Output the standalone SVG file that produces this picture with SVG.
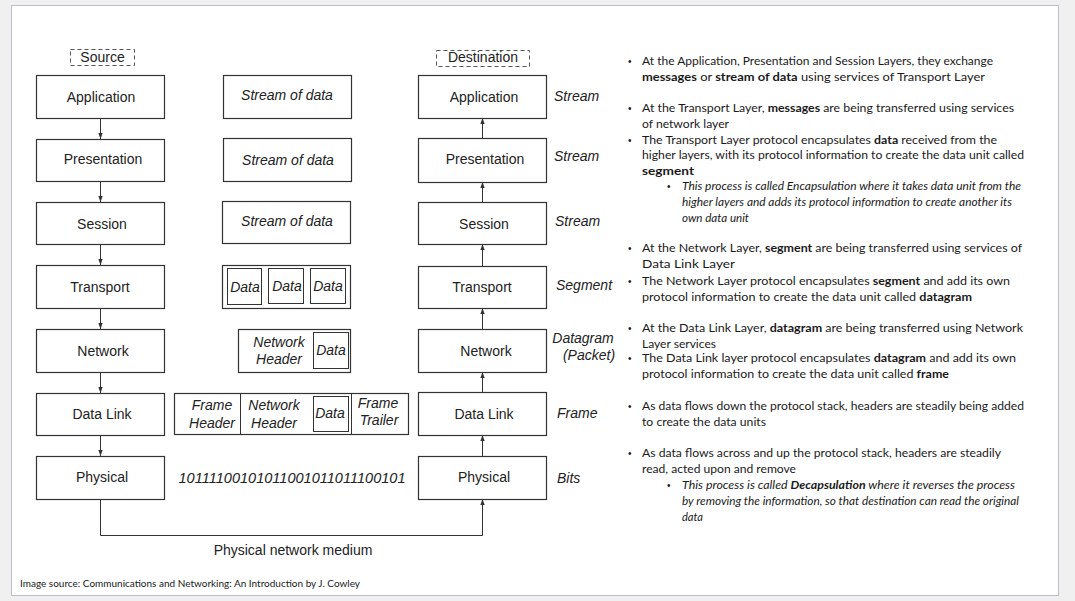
<svg xmlns="http://www.w3.org/2000/svg" width="1075" height="601" viewBox="0 0 1075 601">
<style>
.bx{fill:#fff;stroke:#333;stroke-width:1.2}
.ib{fill:#fff;stroke:#333;stroke-width:1}
.ds{fill:none;stroke:#555;stroke-width:1;stroke-dasharray:4 3}
.t{font-family:'Liberation Sans',Arial,sans-serif;font-size:14px;fill:#222;text-anchor:middle}
.ti{font-family:'Liberation Sans',Arial,sans-serif;font-size:14px;font-style:italic;fill:#222;text-anchor:middle}
.tl{font-family:'Liberation Sans',Arial,sans-serif;font-size:14px;font-style:italic;fill:#222}
.rt{font-family:Lato,'Noto Sans',sans-serif;font-size:12px;fill:#1a1a1a}
.st{font-family:Lato,'Noto Sans',sans-serif;font-size:11px;font-style:italic;fill:#1a1a1a}
.b{font-weight:bold}
.bl{font-family:'Liberation Sans',Arial,sans-serif;font-size:10px;fill:#1a1a1a}
.cn{fill:none;stroke:#333;stroke-width:1}
</style>
<defs>
<marker id="ah" viewBox="0 0 6 6" refX="6" refY="3" markerWidth="6" markerHeight="6" orient="auto" markerUnits="userSpaceOnUse">
<path d="M0,0.8 L6,3 L0,5.2 z" fill="#333"/>
</marker>
</defs>
<rect x="0" y="0" width="1075" height="601" fill="#f0f0f0"/>
<rect x="11.5" y="5.5" width="1047" height="590" fill="#fff" stroke="#b9bec7" stroke-width="1"/>

<g id="connectors">
<line class="cn" x1="100.5" y1="118" x2="100.5" y2="139" marker-end="url(#ah)"/>
<line class="cn" x1="100.5" y1="181" x2="100.5" y2="202" marker-end="url(#ah)"/>
<line class="cn" x1="100.5" y1="244" x2="100.5" y2="265" marker-end="url(#ah)"/>
<line class="cn" x1="100.5" y1="308" x2="100.5" y2="329" marker-end="url(#ah)"/>
<line class="cn" x1="100.5" y1="372" x2="100.5" y2="393" marker-end="url(#ah)"/>
<line class="cn" x1="100.5" y1="435" x2="100.5" y2="456" marker-end="url(#ah)"/>
<line class="cn" x1="482.5" y1="138" x2="482.5" y2="118" marker-end="url(#ah)"/>
<line class="cn" x1="482.5" y1="202" x2="482.5" y2="182" marker-end="url(#ah)"/>
<line class="cn" x1="482.5" y1="266" x2="482.5" y2="244" marker-end="url(#ah)"/>
<line class="cn" x1="482.5" y1="329" x2="482.5" y2="308" marker-end="url(#ah)"/>
<line class="cn" x1="482.5" y1="392" x2="482.5" y2="372" marker-end="url(#ah)"/>
<line class="cn" x1="482.5" y1="456" x2="482.5" y2="435" marker-end="url(#ah)"/>
<polyline class="cn" points="100.5,499 100.5,535.5 482.5,535.5 482.5,499" marker-end="url(#ah)"/>
<text class="t" x="293" y="555">Physical network medium</text>
</g>

<g id="source-label"><rect class="ds" x="70.5" y="49.5" width="64" height="16"/><text class="t" x="102.5" y="62">Source</text></g>
<g id="src-application"><rect class="bx" x="36.5" y="75.5" width="128" height="43"/><text class="t" x="101" y="102">Application</text></g>
<g id="src-presentation"><rect class="bx" x="36.5" y="139.5" width="128" height="42"/><text class="t" x="103" y="164">Presentation</text></g>
<g id="src-session"><rect class="bx" x="36.5" y="202.5" width="128" height="42"/><text class="t" x="102" y="229">Session</text></g>
<g id="src-transport"><rect class="bx" x="36.5" y="265.5" width="128" height="43"/><text class="t" x="100" y="292">Transport</text></g>
<g id="src-network"><rect class="bx" x="36.5" y="329.5" width="128" height="43"/><text class="t" x="103" y="356">Network</text></g>
<g id="src-datalink"><rect class="bx" x="36.5" y="393.5" width="128" height="42"/><text class="t" x="102" y="419">Data Link</text></g>
<g id="src-physical"><rect class="bx" x="36.5" y="456.5" width="128" height="43"/><text class="t" x="102" y="482">Physical</text></g>

<g id="dst-label"><rect class="ds" x="436.5" y="50.5" width="93" height="16"/><text class="t" x="483" y="62">Destination</text></g>
<g id="dst-application"><rect class="bx" x="418.5" y="75.5" width="128" height="43"/><text class="t" x="484" y="102">Application</text></g>
<g id="dst-presentation"><rect class="bx" x="418.5" y="138.5" width="128" height="44"/><text class="t" x="485" y="164">Presentation</text></g>
<g id="dst-session"><rect class="bx" x="418.5" y="202.5" width="128" height="42"/><text class="t" x="484" y="229">Session</text></g>
<g id="dst-transport"><rect class="bx" x="418.5" y="266.5" width="128" height="42"/><text class="t" x="482" y="292">Transport</text></g>
<g id="dst-network"><rect class="bx" x="418.5" y="329.5" width="128" height="43"/><text class="t" x="486" y="356">Network</text></g>
<g id="dst-datalink"><rect class="bx" x="418.5" y="392.5" width="128" height="43"/><text class="t" x="484" y="419">Data Link</text></g>
<g id="dst-physical"><rect class="bx" x="418.5" y="456.5" width="128" height="43"/><text class="t" x="484" y="482">Physical</text></g>

<g id="unit-labels">
<text class="tl" x="554" y="101">Stream</text>
<text class="tl" x="554" y="161">Stream</text>
<text class="tl" x="555" y="226">Stream</text>
<text class="tl" x="556" y="290">Segment</text>
<text class="ti" x="583" y="343">Datagram</text>
<text class="ti" x="589" y="360">(Packet)</text>
<text class="tl" x="557" y="418">Frame</text>
<text class="tl" x="557" y="483">Bits</text>
</g>

<g id="stream1"><rect class="bx" x="223.5" y="75.5" width="128" height="43"/><text class="ti" x="287" y="100">Stream of data</text></g>
<g id="stream2"><rect class="bx" x="223.5" y="138.5" width="128" height="43"/><text class="ti" x="288" y="165">Stream of data</text></g>
<g id="stream3"><rect class="bx" x="222.5" y="201.5" width="128" height="42"/><text class="ti" x="287" y="226">Stream of data</text></g>
<g id="segments"><rect class="bx" x="222.5" y="265.5" width="128" height="43"/>
<rect class="ib" x="227.5" y="268.5" width="34" height="36"/><rect class="ib" x="268.5" y="268.5" width="35" height="35"/><rect class="ib" x="310.5" y="268.5" width="35" height="35"/>
<text class="ti" x="245" y="292">Data</text><text class="ti" x="287" y="291">Data</text><text class="ti" x="328" y="291">Data</text></g>
<g id="datagram"><rect class="bx" x="238.5" y="329.5" width="112" height="43"/><rect class="ib" x="313.5" y="332.5" width="35" height="36"/>
<text class="ti" x="279" y="347">Network</text><text class="ti" x="279" y="364">Header</text><text class="ti" x="331" y="355">Data</text></g>
<g id="frame"><rect class="bx" x="174.5" y="393.5" width="234" height="41"/>
<line class="ib" x1="240.5" y1="393.5" x2="240.5" y2="434.5"/><line class="ib" x1="351.5" y1="393.5" x2="351.5" y2="434.5"/>
<rect class="ib" x="313.5" y="396.5" width="35" height="35"/>
<text class="ti" x="212" y="410">Frame</text><text class="ti" x="212" y="428">Header</text>
<text class="ti" x="274" y="410">Network</text><text class="ti" x="274" y="428">Header</text>
<text class="ti" x="330" y="418">Data</text>
<text class="ti" x="378" y="408">Frame</text><text class="ti" x="379" y="425">Trailer</text></g>
<g id="bits"><text class="ti" x="292" y="483" textLength="227" lengthAdjust="spacingAndGlyphs">10111100101011001011011100101</text></g>

<g id="notes">
<text class="bl" x="628" y="65">•</text>
<text class="rt" x="642" y="65" textLength="351" lengthAdjust="spacingAndGlyphs">At the Application, Presentation and Session Layers, they exchange</text>
<text class="rt" x="642" y="81" textLength="343" lengthAdjust="spacingAndGlyphs"><tspan class="b">messages</tspan> or <tspan class="b">stream of data</tspan> using services of Transport Layer</text>
<text class="bl" x="628" y="112">•</text>
<text class="rt" x="642" y="112" textLength="372" lengthAdjust="spacingAndGlyphs">At the Transport Layer, <tspan class="b">messages</tspan> are being transferred using services</text>
<text class="rt" x="642" y="128" textLength="87" lengthAdjust="spacingAndGlyphs">of network layer</text>
<text class="bl" x="628" y="144">•</text>
<text class="rt" x="642" y="144" textLength="355" lengthAdjust="spacingAndGlyphs">The Transport Layer protocol encapsulates <tspan class="b">data</tspan> received from the</text>
<text class="rt" x="642" y="159" textLength="382" lengthAdjust="spacingAndGlyphs">higher layers, with its protocol information to create the data unit called</text>
<text class="rt b" x="642" y="175" textLength="52" lengthAdjust="spacingAndGlyphs">segment</text>
<text class="bl" x="667" y="190">•</text>
<text class="st" x="682" y="190" textLength="339" lengthAdjust="spacingAndGlyphs">This process is called Encapsulation where it takes data unit from the</text>
<text class="st" x="682" y="206" textLength="330" lengthAdjust="spacingAndGlyphs">higher layers and adds its protocol information to create another its</text>
<text class="st" x="682" y="222" textLength="67" lengthAdjust="spacingAndGlyphs">own data unit</text>

<text class="bl" x="628" y="252">•</text>
<text class="rt" x="642" y="252" textLength="380" lengthAdjust="spacingAndGlyphs">At the Network Layer, <tspan class="b">segment</tspan> are being transferred using services of</text>
<text class="rt" x="642" y="268" textLength="93" lengthAdjust="spacingAndGlyphs">Data Link Layer</text>
<text class="bl" x="628" y="285">•</text>
<text class="rt" x="642" y="285" textLength="368" lengthAdjust="spacingAndGlyphs">The Network Layer protocol encapsulates <tspan class="b">segment</tspan> and add its own</text>
<text class="rt" x="642" y="301" textLength="330" lengthAdjust="spacingAndGlyphs">protocol information to create the data unit called <tspan class="b">datagram</tspan></text>
<text class="bl" x="628" y="332">•</text>
<text class="rt" x="642" y="332" textLength="381" lengthAdjust="spacingAndGlyphs">At the Data Link Layer, <tspan class="b">datagram</tspan> are being transferred using Network</text>
<text class="rt" x="642" y="348" textLength="74" lengthAdjust="spacingAndGlyphs">Layer services</text>
<text class="bl" x="628" y="362">•</text>
<text class="rt" x="642" y="362" textLength="374" lengthAdjust="spacingAndGlyphs">The Data Link layer protocol encapsulates <tspan class="b">datagram</tspan> and add its own</text>
<text class="rt" x="642" y="378" textLength="307" lengthAdjust="spacingAndGlyphs">protocol information to create the data unit called <tspan class="b">frame</tspan></text>

<text class="bl" x="628" y="410">•</text>
<text class="rt" x="642" y="410" textLength="382" lengthAdjust="spacingAndGlyphs">As data flows down the protocol stack, headers are steadily being added</text>
<text class="rt" x="642" y="426" textLength="124" lengthAdjust="spacingAndGlyphs">to create the data units</text>
<text class="bl" x="628" y="457">•</text>
<text class="rt" x="642" y="457" textLength="359" lengthAdjust="spacingAndGlyphs">As data flows across and up the protocol stack, headers are steadily</text>
<text class="rt" x="642" y="473" textLength="154" lengthAdjust="spacingAndGlyphs">read, acted upon and remove</text>
<text class="bl" x="667" y="489">•</text>
<text class="st" x="682" y="489" textLength="333" lengthAdjust="spacingAndGlyphs">This process is called <tspan class="b">Decapsulation</tspan> where it reverses the process</text>
<text class="st" x="682" y="505" textLength="337" lengthAdjust="spacingAndGlyphs">by removing the information, so that destination can read the original</text>
<text class="st" x="682" y="521" textLength="21" lengthAdjust="spacingAndGlyphs">data</text>
</g>

<g id="caption"><text x="20" y="587" font-family="Lato,'Noto Sans',sans-serif" font-size="9" fill="#1a1a1a" textLength="340" lengthAdjust="spacingAndGlyphs">Image source: Communications and Networking: An Introduction by J. Cowley</text></g>
</svg>
